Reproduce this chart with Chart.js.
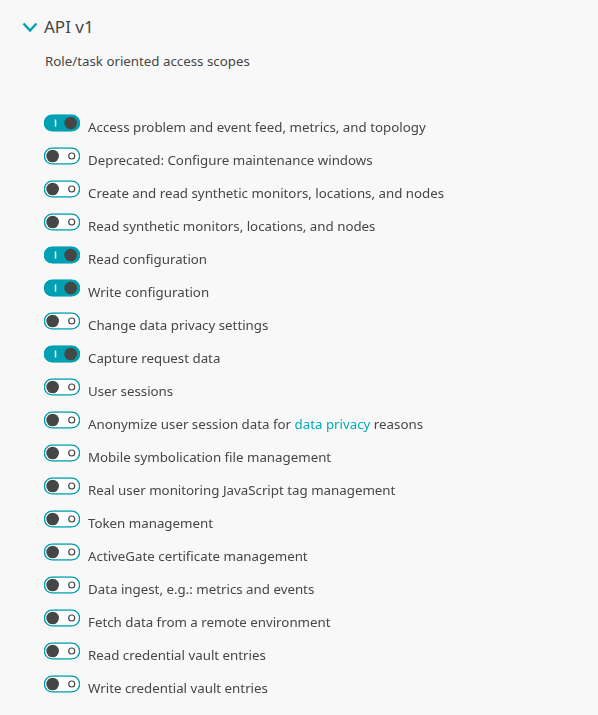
<!DOCTYPE html>
<html>
<head>
<meta charset="utf-8">
<script src="https://cdn.jsdelivr.net/npm/chart.js@4"></script>
<style>
    html, body { margin: 0; padding: 0; background: #f8f8f8; }
    body { width: 598px; height: 715px; position: relative; overflow: hidden; font-family: "Noto Sans", sans-serif; color: #454646; }
    #chevron { position: absolute; left: 22px; top: 22px; }
    #title { position: absolute; left: 44px; top: 17px; font-size: 17px; line-height: 20px; }
    #subtitle { position: absolute; left: 45px; top: 53px; font-size: 13.3px; line-height: 16px; }
    #wrap { position: absolute; left: 0; top: 100px; width: 598px; height: 615px; }
</style>
</head>
<body>
<svg id="chevron" width="16" height="11" viewBox="0 0 16 11">
    <polyline points="1.5,1.5 8,8.5 14.5,1.5" fill="none" stroke="#00a1b2" stroke-width="2.4"/>
</svg>
<div id="title">API v1</div>
<div id="subtitle">Role/task oriented access scopes</div>
<div id="wrap"><canvas id="scopesChart"></canvas></div>
<script>
// Scope names (rows) and whether each toggle is switched on
const scopes = [
    'Access problem and event feed, metrics, and topology',
    'Deprecated: Configure maintenance windows',
    'Create and read synthetic monitors, locations, and nodes',
    'Read synthetic monitors, locations, and nodes',
    'Read configuration',
    'Write configuration',
    'Change data privacy settings',
    'Capture request data',
    'User sessions',
    'Anonymize user session data for data privacy reasons',
    'Mobile symbolication file management',
    'Real user monitoring JavaScript tag management',
    'Token management',
    'ActiveGate certificate management',
    'Data ingest, e.g.: metrics and events',
    'Fetch data from a remote environment',
    'Read credential vault entries',
    'Write credential vault entries'
];
const enabled = [1, 0, 0, 0, 1, 1, 0, 1, 0, 0, 0, 0, 0, 0, 0, 0, 0, 0];

// Row with an inline link inside its label
const linkRow = 9;
const linkParts = ['Anonymize user session data for ', 'data privacy', ' reasons'];

const TEAL = '#00a1b2';
const LINK = '#00a9bb';
const TEXT = '#454646';
const FONT = { family: 'Noto Sans', size: 13.3 };
const LABEL_SHIFT = 5;

// Draw the label with the coloured link part
const linkLabelPlugin = {
    id: 'linkLabel',
    afterDraw(chart) {
        const scale = chart.scales.y;
        const ctx = chart.ctx;
        ctx.save();
        ctx.font = FONT.size + 'px "' + FONT.family + '"';
        ctx.textBaseline = 'middle';
        ctx.textAlign = 'left';
        let x = scale.left + 8;
        const y = scale.getPixelForValue(linkRow) + LABEL_SHIFT;
        linkParts.forEach((part, i) => {
            ctx.fillStyle = i === 1 ? LINK : TEXT;
            ctx.fillText(part, x, y);
            x += ctx.measureText(part).width;
        });
        ctx.restore();
    }
};

new Chart(document.getElementById('scopesChart'), {
    data: {
        labels: scopes,
        datasets: [
            {
                // toggle track
                type: 'bar',
                indexAxis: 'y',
                data: enabled.map(() => [0, 1]),
                backgroundColor: enabled.map(v => v ? TEAL : '#ffffff'),
                borderColor: TEAL,
                borderWidth: 1.5,
                borderRadius: 9,
                borderSkipped: false,
                barThickness: 17,
                order: 3
            },
            {
                // knob
                type: 'scatter',
                data: scopes.map((s, i) => ({ x: enabled[i] ? 0.74 : 0.24, y: s })),
                pointRadius: 6.3,
                pointHoverRadius: 6.3,
                backgroundColor: TEXT,
                borderWidth: 0,
                order: 1
            },
            {
                // "I" / "o" marker
                type: 'scatter',
                data: scopes.map((s, i) => ({ x: enabled[i] ? 0.32 : 0.77, y: s })),
                pointStyle: enabled.map(v => v ? 'line' : 'circle'),
                rotation: enabled.map(v => v ? 90 : 0),
                pointRadius: enabled.map(v => v ? 3.5 : 3),
                backgroundColor: '#ffffff',
                borderColor: enabled.map(v => v ? '#ffffff' : TEXT),
                borderWidth: enabled.map(v => v ? 1.5 : 1.2),
                order: 2
            }
        ]
    },
    options: {
        responsive: true,
        maintainAspectRatio: false,
        animation: false,
        events: [],
        layout: { padding: { left: 44, right: 0, top: 6.5, bottom: 14.5 } },
        plugins: {
            legend: { display: false },
            tooltip: { enabled: false }
        },
        scales: {
            x: { type: 'linear', min: 0, max: 1, display: false },
            y: {
                type: 'category',
                position: 'right',
                offset: true,
                grid: { display: false, drawTicks: false },
                border: { display: false },
                ticks: {
                    autoSkip: false,
                    padding: 8,
                    crossAlign: 'near',
                    labelOffset: LABEL_SHIFT,
                    font: FONT,
                    color: (c) => c.index === linkRow ? 'rgba(0,0,0,0)' : TEXT
                },
                afterFit(scale) {
                    scale.width = 598 - 80;
                    scale.paddingTop = 0;
                    scale.paddingBottom = 0;
                }
            }
        }
    },
    plugins: [linkLabelPlugin]
});
</script>
</body>
</html>
